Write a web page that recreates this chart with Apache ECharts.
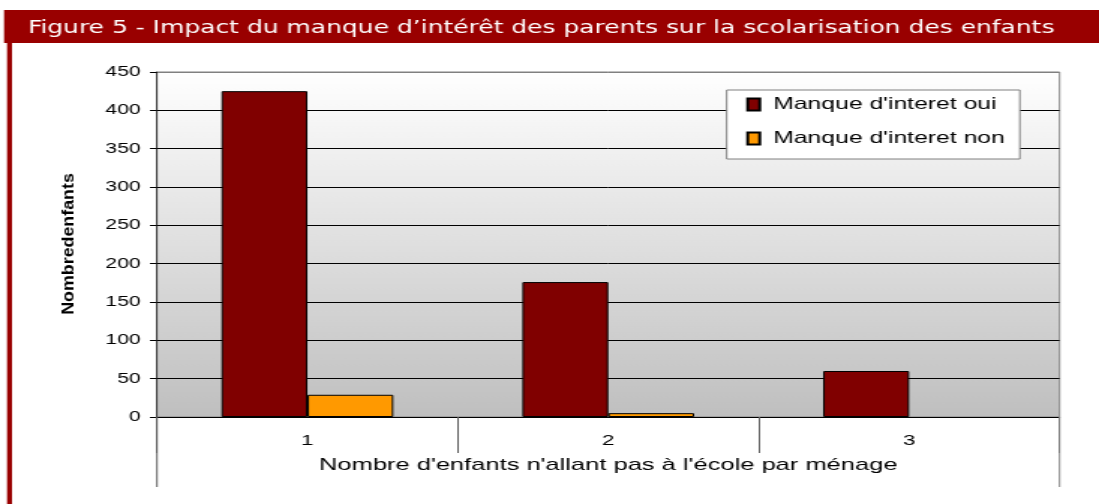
<!DOCTYPE html>
<html>
<head>
<meta charset="utf-8">
<script src="https://cdn.jsdelivr.net/npm/echarts@6/dist/echarts.min.js"></script>
<style>
  html, body { margin: 0; padding: 0; background: #fff; overflow: hidden; }
  /* the original figure is stretched horizontally, so the whole chart is drawn narrow then widened */
  #chart { width: 733px; height: 504px; transform: scaleX(1.4993); transform-origin: 0 0; }
</style>
</head>
<body>
<div id="chart"></div>
<script>
const categories = ['1', '2', '3']
const interetOui = [425, 176, 60]
const interetNon = [29, 5, 0]
const yMin = 0
const yMax = 450
const yStep = 50

const titleText = 'Figure 5 - Impact du manque d\u2019intérêt des parents sur la scolarisation des enfants'
const xName = "Nombre d'enfants n'allant pas à l'école par ménage"
const yName = 'Nombredenfants'

// last split line (top of plot) is grey, the others black
const splitColors = []
for (let v = yMin; v <= yMax; v += yStep) splitColors.push(v === yMax ? '#808080' : '#000')

// a zero bar shows nothing in the original, so drop its outline
const noOutlineAtZero = arr => arr.map(v => v === 0 ? { value: v, itemStyle: { borderWidth: 0 } } : v)

const myChart = echarts.init(document.getElementById('chart'))
const option = {
  animation: false,
  textStyle: { fontFamily: 'Liberation Sans' },
  title: {
    text: titleText,
    left: 18.7,
    top: 17,
    padding: 0,
    textStyle: {
      color: '#fff',
      fontFamily: 'DejaVu Sans Condensed',
      fontWeight: 'normal',
      fontSize: 18.5,
      lineHeight: 22
    }
  },
  graphic: [
    { type: 'rect', shape: { x: 2.7, y: 10, width: 731, height: 33 }, style: { fill: '#990000' }, z: 0 },
    { type: 'rect', shape: { x: 4.7, y: 43, width: 3.3, height: 470 }, style: { fill: '#990000' }, z: 0 },
    { type: 'line', shape: { x1: 104.7, y1: 417, x2: 104.7, y2: 487 }, style: { stroke: '#606060', lineWidth: 1 }, z: 10 },
    { type: 'line', shape: { x1: 706.7, y1: 417, x2: 706.7, y2: 487 }, style: { stroke: '#808080', lineWidth: 1 }, z: 10 },
    {
      type: 'text',
      x: 46, y: 244,
      rotation: Math.PI / 2,
      scaleX: 1.62,
      style: {
        text: yName,
        fill: '#000',
        font: 'bold 11px "Liberation Sans"',
        textAlign: 'center',
        textVerticalAlign: 'middle'
      },
      z: 10
    }
  ],
  legend: {
    orient: 'vertical',
    left: 484.7,
    top: 90,
    padding: [6, 10, 12, 13],
    itemWidth: 8,
    itemHeight: 12,
    itemGap: 17,
    icon: 'rect',
    backgroundColor: '#fff',
    borderColor: '#808080',
    borderWidth: 1,
    textStyle: { fontSize: 16.5, color: '#000', padding: [0, 0, 0, 4] },
    data: ["Manque d'interet oui", "Manque d'interet non"]
  },
  grid: {
    left: 104.7,
    right: 26.3,
    top: 72,
    bottom: 87,
    show: true,
    borderColor: '#808080',
    borderWidth: 1,
    backgroundColor: {
      type: 'linear', x: 0, y: 0, x2: 0, y2: 1,
      colorStops: [{ offset: 0, color: '#ffffff' }, { offset: 1, color: '#bfbfbf' }]
    }
  },
  xAxis: {
    type: 'category',
    data: categories,
    axisLine: { lineStyle: { color: '#000', width: 1 } },
    axisTick: { show: true, interval: 0, length: 36, lineStyle: { color: '#606060' } },
    axisLabel: { color: '#000', fontSize: 15, margin: 16 },
    name: xName,
    nameLocation: 'middle',
    nameGap: 40,
    nameTextStyle: { color: '#000', fontSize: 17 }
  },
  yAxis: {
    type: 'value',
    min: yMin,
    max: yMax,
    interval: yStep,
    axisLine: { show: true, lineStyle: { color: '#404040', width: 1 } },
    axisTick: { show: true, length: 4.7, lineStyle: { color: '#000' } },
    axisLabel: { color: '#000', fontSize: 14, margin: 11 },
    splitLine: { show: true, lineStyle: { color: splitColors, width: 1 } }
  },
  series: [
    {
      name: "Manque d'interet oui",
      type: 'bar',
      data: noOutlineAtZero(interetOui),
      barWidth: 57.3,
      barGap: '0%',
      itemStyle: { color: '#800000', borderColor: '#000', borderWidth: 1 }
    },
    {
      name: "Manque d'interet non",
      type: 'bar',
      data: noOutlineAtZero(interetNon),
      barWidth: 57.3,
      barGap: '0%',
      itemStyle: { color: '#ff9900', borderColor: '#000', borderWidth: 1 }
    }
  ]
}
myChart.setOption(option)
</script>
</body>
</html>
